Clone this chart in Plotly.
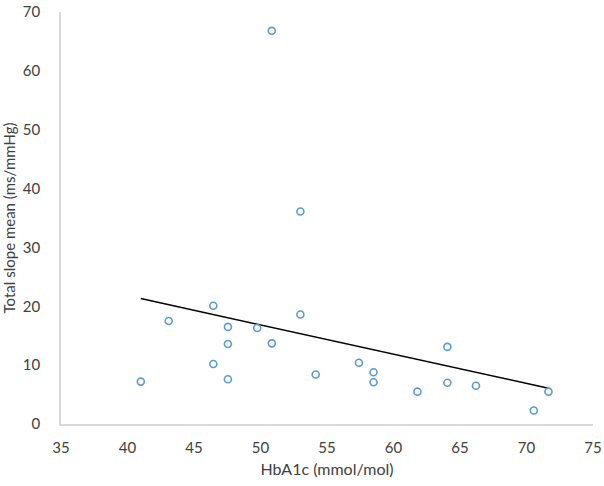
import numpy as np
import plotly.graph_objects as go

BLUE = "#5B9BD5"
GREY = "#404040"

# HbA1c (mmol/mol) and total slope mean (ms/mmHg)
hba1c = [50.85, 53.0, 41.0, 43.1, 46.45, 46.45, 47.55, 47.55, 47.55, 49.75, 50.85,
         53.0, 54.15, 57.4, 58.5, 58.5, 61.8, 64.05, 64.05, 66.2, 70.55, 71.65]
slope_mean = [66.8, 36.1, 7.2, 17.5, 20.1, 10.2, 16.5, 13.6, 7.6, 16.3, 13.7,
              18.6, 8.4, 10.4, 8.8, 7.1, 5.5, 13.1, 7.0, 6.5, 2.3, 5.5]

x_ticks = [35, 40, 45, 50, 55, 60, 65, 70, 75]
y_ticks = [0, 10, 20, 30, 40, 50, 60, 70]

# linear trendline over the data range, as Excel draws it
k, b = np.polyfit(hba1c, slope_mean, 1)
trend_x = [min(hba1c), max(hba1c)]
trend_y = [k * v + b for v in trend_x]

fig = go.Figure()
fig.add_trace(go.Scatter(
    x=trend_x, y=trend_y, mode="lines",
    line=dict(color="black", width=1.5), hoverinfo="skip",
))
fig.add_trace(go.Scatter(
    x=hba1c, y=slope_mean, mode="markers",
    marker=dict(symbol="circle-open", size=7, color=BLUE, line=dict(width=1.6)),
))

fig.update_layout(
    width=604, height=486, showlegend=False,
    margin=dict(l=61, r=11, t=12, b=62),
    plot_bgcolor="white", paper_bgcolor="white",
    font=dict(family="Lato, Open Sans, sans-serif", size=15, color=GREY),
)
fig.update_xaxes(
    range=[35, 75], tickvals=x_ticks, showgrid=False, zeroline=False,
    showline=True, linecolor="#d9d9d9", linewidth=1.5, automargin=False,
    ticks="", ticklabelstandoff=9,
    title=dict(text="HbA1c (mmol/mol)", font=dict(size=16), standoff=9),
)
fig.update_yaxes(
    range=[0, 70], tickvals=y_ticks, showgrid=False, zeroline=False,
    showline=True, linecolor="#d9d9d9", linewidth=1.5, automargin=False,
    ticks="", ticklabelstandoff=16,
    title=dict(text="Total slope mean (ms/mmHg)", font=dict(size=15), standoff=4),
)

# page body has a default 8px margin; drop it so the figure sits at 0,0
fig.write_html("out.html", config={"displayModeBar": False},
               post_script="document.body.style.margin='0';")
